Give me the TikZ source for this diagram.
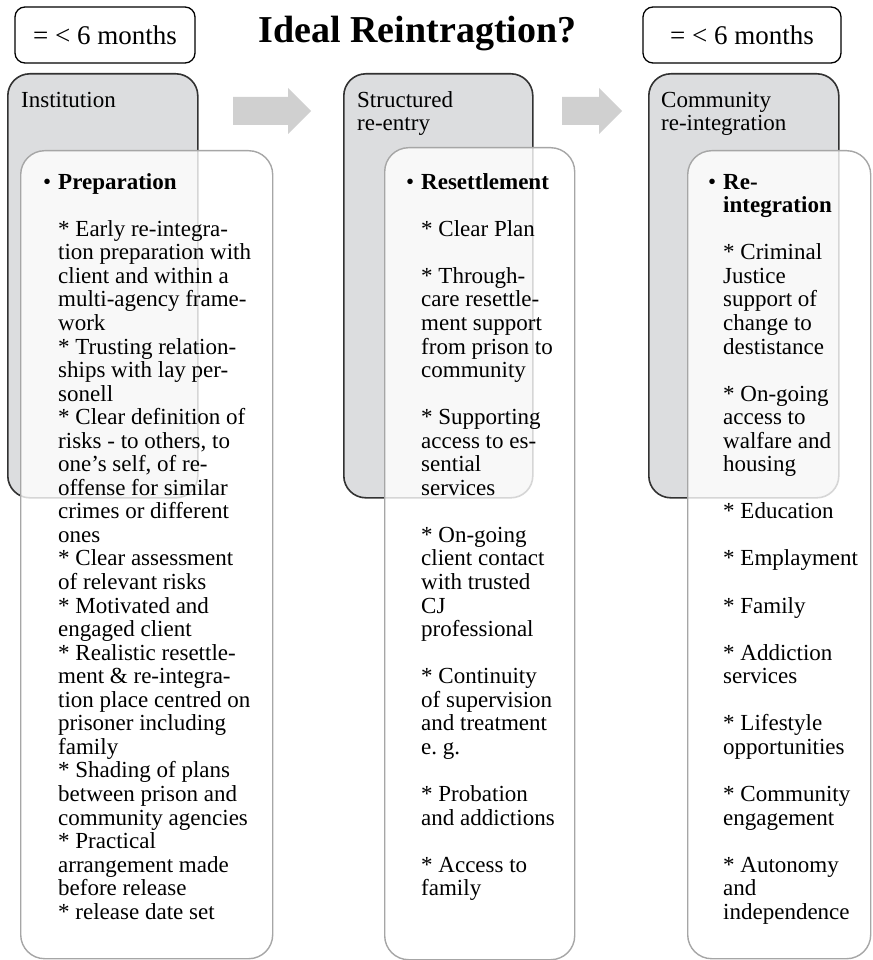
\documentclass[tikz,border=0pt]{standalone}
\usepackage{fontspec}
\setmainfont{Liberation Serif}
\frenchspacing
\definecolor{stagefill}{RGB}{220,221,223}
\definecolor{stageline}{RGB}{50,50,50}
\definecolor{detailline}{RGB}{166,166,166}
\definecolor{arrowfill}{RGB}{208,208,208}
\newcommand{\gapline}{\\[23.55pt]}
\newcommand{\bulhead}[1]{\llap{\textbullet\hspace{7pt}}\textbf{#1}}
\begin{document}
\begin{tikzpicture}[x=1pt,y=-1pt,
  stage/.style={draw=stageline, fill=stagefill, line width=1.6pt,
    rounded corners=22pt, anchor=north west, inner sep=0pt},
  detail/.style={draw=detailline, fill=white, fill opacity=0.8, line width=1.4pt,
    rounded corners=24pt, anchor=north west, inner sep=0pt},
  monthbox/.style={draw=black, fill=white, line width=1.3pt, rounded corners=10pt,
    minimum height=56pt, inner sep=0pt, font=\fontsize{27}{30}\selectfont},
  body/.style={anchor=north west, inner sep=0pt, align=left,
    font=\fontsize{23}{23.55}\selectfont},
  blockarrow/.style={fill=arrowfill, draw=none}
]
\useasboundingbox (0,0) rectangle (872,960);

% header row
\node[monthbox, minimum width=180pt] (lefttime) at (105,35) {= < 6 months};
\node[monthbox, minimum width=198pt] (righttime) at (742,35) {= < 6 months};
\node[anchor=base, inner sep=0pt, font=\fontsize{38}{40}\selectfont\bfseries]
  (title) at (417.5,43) {Ideal Reintragtion?};

% block arrows between the stages
\fill[blockarrow] (233,97) -- (288,97) -- (288,88) -- (311,111) -- (288,134)
  -- (288,125) -- (233,125) -- cycle;
\fill[blockarrow] (562,97) -- (599,97) -- (599,88) -- (622,111) -- (599,134)
  -- (599,125) -- (562,125) -- cycle;

% stage boxes
\node[stage, minimum width=190pt, minimum height=424pt] (inst) at (7,73) {};
\node[stage, minimum width=189pt, minimum height=424pt] (reentry) at (343,73) {};
\node[stage, minimum width=190pt, minimum height=424pt] (commun) at (648,73) {};

\node[body] (insthead) at (21,90.5) {\strut Institution};
\node[body] (reentryhead) at (357,90.5) {\strut Structured\\re-entry};
\node[body] (communhead) at (661,90.5) {\strut Community\\re-integration};

% detail boxes laid over the stages
\node[detail, minimum width=252pt, minimum height=808pt] (prepbox) at (20,150) {};
\node[detail, minimum width=190pt, minimum height=812pt] (resetbox) at (384,147) {};
\node[detail, minimum width=183pt, minimum height=808pt] (reintbox) at (687,150) {};

\node[body] (preptext) at (58,172.5) {\strut\bulhead{Preparation}\gapline
* Early re-integra-\\
tion preparation with\\
client and within a\\
multi-agency frame-\\
work\\
* Trusting relation-\\
ships with lay per-\\
sonell\\
* Clear definition of\\
risks - to others, to\\
one’s self, of re-\\
offense for similar\\
crimes or different\\
ones\\
* Clear assessment\\
of relevant risks\\
* Motivated and\\
engaged client\\
* Realistic resettle-\\
ment \& re-integra-\\
tion place centred on\\
prisoner including\\
family\\
* Shading of plans\\
between prison and\\
community agencies\\
* Practical\\
arrangement made\\
before release\\
* release date set};

\node[body] (resettext) at (421,172.5) {\strut\bulhead{Resettlement}\gapline
* Clear Plan\gapline
* Through-\\
care resettle-\\
ment support\\
from prison to\\
community\gapline
* Supporting\\
access to es-\\
sential\\
services\gapline
* On-going\\
client contact\\
with trusted\\
CJ\\
professional\gapline
* Continuity\\
of supervision\\
and treatment\\
e. g.\gapline
* Probation\\
and addictions\gapline
* Access to\\
family};

\node[body] (reinttext) at (723,172.5) {\strut\bulhead{Re-}\\
\textbf{integration}\gapline
* Criminal\\
Justice\\
support of\\
change to\\
destistance\gapline
* On-going\\
access to\\
walfare and\\
housing\gapline
* Education\gapline
* Emplayment\gapline
* Family\gapline
* Addiction\\
services\gapline
* Lifestyle\\
opportunities\gapline
* Community\\
engagement\gapline
* Autonomy\\
and\\
independence};
\end{tikzpicture}
\end{document}
